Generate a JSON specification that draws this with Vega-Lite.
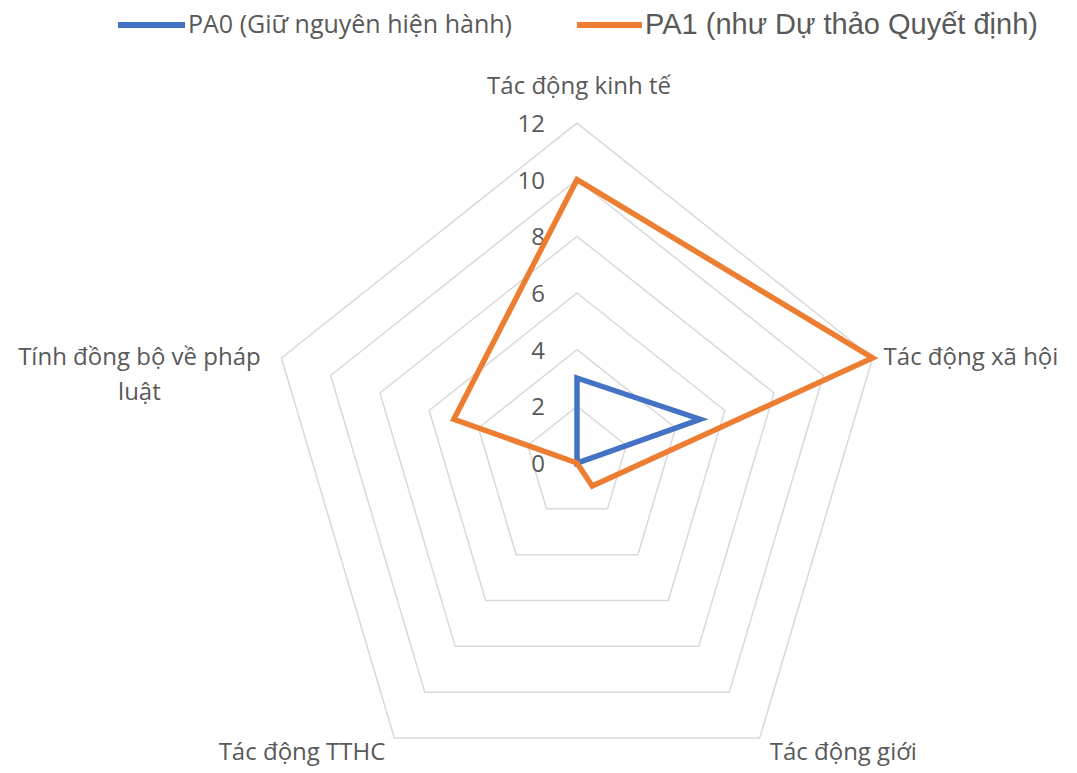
{
  "$schema": "https://vega.github.io/schema/vega-lite/v6.json",
  "width": 1077,
  "height": 773,
  "padding": 0,
  "autosize": {"type": "none"},
  "background": "white",
  "config": {"view": {"stroke": null}, "font": "Open Sans"},
  "datasets": {
    "scores": [
      {"series": "PA0 (Giữ nguyên hiện hành)", "axis": "Tác động kinh tế", "k": 0, "value": 3},
      {"series": "PA0 (Giữ nguyên hiện hành)", "axis": "Tác động xã hội", "k": 1, "value": 5},
      {"series": "PA0 (Giữ nguyên hiện hành)", "axis": "Tác động giới", "k": 2, "value": 0},
      {"series": "PA0 (Giữ nguyên hiện hành)", "axis": "Tác động TTHC", "k": 3, "value": 0},
      {"series": "PA0 (Giữ nguyên hiện hành)", "axis": "Tính đồng bộ về pháp luật", "k": 4, "value": 0},
      {"series": "PA1 (như Dự thảo Quyết định)", "axis": "Tác động kinh tế", "k": 0, "value": 10},
      {"series": "PA1 (như Dự thảo Quyết định)", "axis": "Tác động xã hội", "k": 1, "value": 12},
      {"series": "PA1 (như Dự thảo Quyết định)", "axis": "Tác động giới", "k": 2, "value": 1},
      {"series": "PA1 (như Dự thảo Quyết định)", "axis": "Tác động TTHC", "k": 3, "value": 0},
      {"series": "PA1 (như Dự thảo Quyết định)", "axis": "Tính đồng bộ về pháp luật", "k": 4, "value": 5}
    ],
    "cats": [
      {"k": 0, "axis": "Tác động kinh tế", "levels": [2, 4, 6, 8, 10, 12]},
      {"k": 1, "axis": "Tác động xã hội", "levels": [2, 4, 6, 8, 10, 12]},
      {"k": 2, "axis": "Tác động giới", "levels": [2, 4, 6, 8, 10, 12]},
      {"k": 3, "axis": "Tác động TTHC", "levels": [2, 4, 6, 8, 10, 12]},
      {"k": 4, "axis": "Tính đồng bộ về pháp\nluật", "levels": [2, 4, 6, 8, 10, 12]}
    ],
    "ticks": [
      {"level": 0}, {"level": 2}, {"level": 4}, {"level": 6}, {"level": 8}, {"level": 10}, {"level": 12}
    ]
  },
  "layer": [
    {
      "data": {"name": "cats"},
      "transform": [
        {"flatten": ["levels"], "as": ["level"]},
        {"calculate": "datum.level*sin(2*PI*datum.k/5)", "as": "x"},
        {"calculate": "datum.level*cos(2*PI*datum.k/5)", "as": "y"}
      ],
      "mark": {"type": "line", "interpolate": "linear-closed", "stroke": "#d9d9d9", "strokeWidth": 1.5},
      "encoding": {
        "x": {"field": "x", "type": "quantitative", "scale": {"domain": [-22.278, 19.305], "nice": false, "zero": false}, "axis": null},
        "y": {"field": "y", "type": "quantitative", "scale": {"domain": [-10.942, 16.343], "nice": false, "zero": false}, "axis": null},
        "detail": {"field": "level", "type": "nominal"},
        "order": {"field": "k", "type": "quantitative"}
      }
    },
    {
      "data": {"name": "ticks"},
      "mark": {"type": "text", "align": "right", "baseline": "middle", "dx": -32, "dy": 2, "fontSize": 24, "color": "#595959", "font": "Open Sans"},
      "encoding": {
        "x": {"datum": 0, "type": "quantitative"},
        "y": {"field": "level", "type": "quantitative"},
        "text": {"field": "level", "type": "quantitative"}
      }
    },
    {
      "data": {"name": "scores"},
      "transform": [
        {"filter": "datum.series === 'PA0 (Giữ nguyên hiện hành)'"},
        {"calculate": "datum.value*sin(2*PI*datum.k/5)", "as": "x"},
        {"calculate": "datum.value*cos(2*PI*datum.k/5)", "as": "y"}
      ],
      "mark": {"type": "line", "interpolate": "linear-closed", "strokeWidth": 5.5},
      "encoding": {
        "x": {"field": "x", "type": "quantitative"},
        "y": {"field": "y", "type": "quantitative"},
        "order": {"field": "k", "type": "quantitative"},
        "color": {
          "field": "series", "type": "nominal",
          "scale": {"domain": ["PA0 (Giữ nguyên hiện hành)"], "range": ["#4472C4"]},
          "legend": {"orient": "none", "legendX": 115, "legendY": -11.5, "title": null, "padding": 0, "symbolType": "stroke", "symbolSize": 4489, "symbolStrokeWidth": 6, "labelFont": "Open Sans", "labelFontSize": 25, "labelColor": "#595959", "labelOffset": 0, "labelLimit": 700}
        }
      }
    },
    {
      "data": {"name": "scores"},
      "transform": [
        {"filter": "datum.series === 'PA1 (như Dự thảo Quyết định)'"},
        {"calculate": "datum.value*sin(2*PI*datum.k/5)", "as": "x"},
        {"calculate": "datum.value*cos(2*PI*datum.k/5)", "as": "y"}
      ],
      "mark": {"type": "line", "interpolate": "linear-closed", "strokeWidth": 5.5},
      "encoding": {
        "x": {"field": "x", "type": "quantitative"},
        "y": {"field": "y", "type": "quantitative"},
        "order": {"field": "k", "type": "quantitative"},
        "stroke": {
          "field": "series", "type": "nominal",
          "scale": {"domain": ["PA1 (như Dự thảo Quyết định)"], "range": ["#ED7D31"]},
          "legend": {"orient": "none", "legendX": 574, "legendY": -10.5, "title": null, "padding": 0, "symbolType": "stroke", "symbolSize": 4225, "symbolStrokeWidth": 6, "labelFont": "Liberation Sans", "labelFontSize": 29, "labelColor": "#595959", "labelOffset": 0, "labelLimit": 700}
        }
      }
    },
    {
      "data": {"name": "cats"},
      "transform": [
        {"filter": "datum.k === 0"},
        {"calculate": "12*sin(2*PI*datum.k/5)", "as": "x"},
        {"calculate": "12*cos(2*PI*datum.k/5)", "as": "y"}
      ],
      "mark": {"type": "text", "align": "center", "baseline": "middle", "dx": 2, "dy": -36, "fontSize": 24, "color": "#595959", "font": "Open Sans"},
      "encoding": {"x": {"field": "x", "type": "quantitative"}, "y": {"field": "y", "type": "quantitative"}, "text": {"field": "axis", "type": "nominal"}}
    },
    {
      "data": {"name": "cats"},
      "transform": [
        {"filter": "datum.k === 1"},
        {"calculate": "12*sin(2*PI*datum.k/5)", "as": "x"},
        {"calculate": "12*cos(2*PI*datum.k/5)", "as": "y"}
      ],
      "mark": {"type": "text", "align": "left", "baseline": "middle", "dx": 11, "fontSize": 24, "color": "#595959", "font": "Open Sans"},
      "encoding": {"x": {"field": "x", "type": "quantitative"}, "y": {"field": "y", "type": "quantitative"}, "text": {"field": "axis", "type": "nominal"}}
    },
    {
      "data": {"name": "cats"},
      "transform": [
        {"filter": "datum.k === 2"},
        {"calculate": "12*sin(2*PI*datum.k/5)", "as": "x"},
        {"calculate": "12*cos(2*PI*datum.k/5)", "as": "y"}
      ],
      "mark": {"type": "text", "align": "left", "baseline": "middle", "dx": 10, "dy": 15, "fontSize": 24, "color": "#595959", "font": "Open Sans"},
      "encoding": {"x": {"field": "x", "type": "quantitative"}, "y": {"field": "y", "type": "quantitative"}, "text": {"field": "axis", "type": "nominal"}}
    },
    {
      "data": {"name": "cats"},
      "transform": [
        {"filter": "datum.k === 3"},
        {"calculate": "12*sin(2*PI*datum.k/5)", "as": "x"},
        {"calculate": "12*cos(2*PI*datum.k/5)", "as": "y"}
      ],
      "mark": {"type": "text", "align": "right", "baseline": "middle", "dx": -9, "dy": 15, "fontSize": 24, "color": "#595959", "font": "Open Sans"},
      "encoding": {"x": {"field": "x", "type": "quantitative"}, "y": {"field": "y", "type": "quantitative"}, "text": {"field": "axis", "type": "nominal"}}
    },
    {
      "data": {"name": "cats"},
      "transform": [
        {"filter": "datum.k === 4"},
        {"calculate": "12*sin(2*PI*datum.k/5)", "as": "x"},
        {"calculate": "12*cos(2*PI*datum.k/5)", "as": "y"}
      ],
      "mark": {"type": "text", "align": "center", "baseline": "middle", "dx": -142, "lineBreak": "\n", "lineHeight": 35, "fontSize": 24, "color": "#595959", "font": "Open Sans"},
      "encoding": {"x": {"field": "x", "type": "quantitative"}, "y": {"field": "y", "type": "quantitative"}, "text": {"field": "axis", "type": "nominal"}}
    }
  ]
}
